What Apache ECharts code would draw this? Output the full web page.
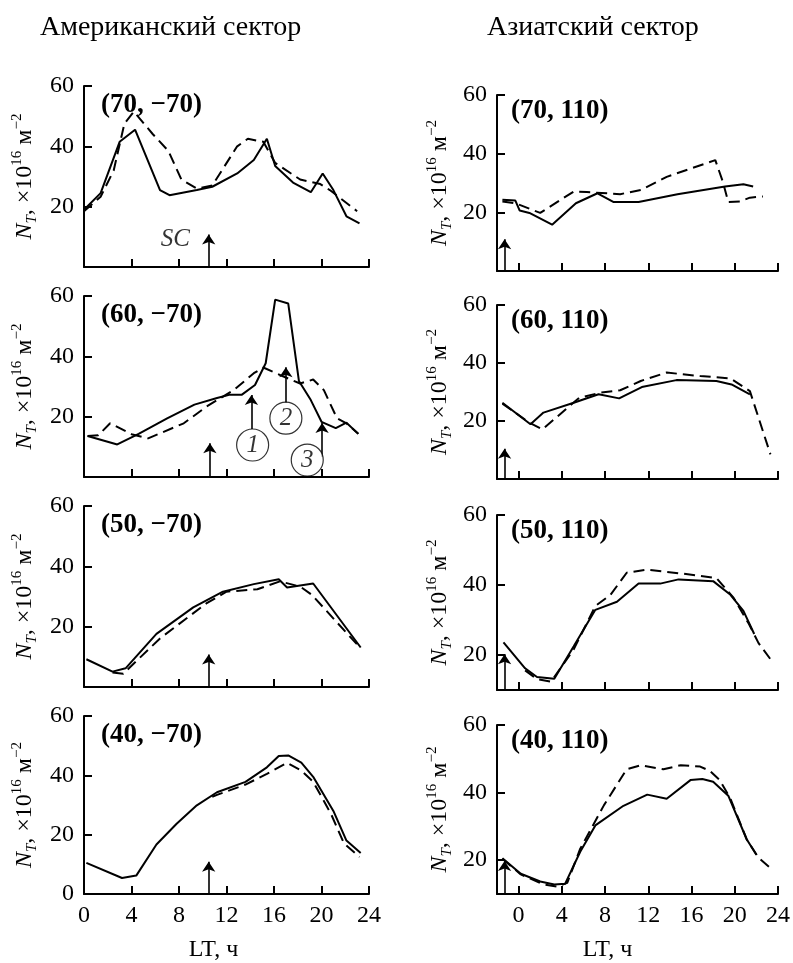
<!DOCTYPE html>
<html>
<head>
<meta charset="utf-8">
<script src="https://cdn.jsdelivr.net/npm/echarts@6/dist/echarts.min.js"></script>
<style>
  html, body { margin: 0; padding: 0; background: #fff; }
  #chart { width: 793px; height: 963px; }
</style>
</head>
<body>
<div id="chart"></div>
<script>
// ---- data: [LT (h), N_T (x10^16 m^-2)] ----
const am70Solid = [[0,19],[1.4,24.5],[3,41.5],[4.3,45.5],[6.4,25.5],[7.2,23.8],[9.5,25.5],[10.8,26.6],[12.9,31],[14.3,35.5],[15.4,42.5],[16.1,33.5],[17.6,28],[19.1,24.8],[20.1,31],[21,25.5],[22.1,16.8],[23.2,14.5]];
const am70Dashed = [[0,18.5],[1.4,23.3],[2.5,32],[3.4,47.5],[4.2,51.5],[5.8,44],[7.1,38.5],[8.2,29],[9.5,26],[10.8,27],[12.9,40],[13.8,42.5],[15.1,41.5],[16.1,34.5],[18.2,29],[19.9,27.5],[20.7,25.5],[23,18.5]];

const am60Solid = [[0.3,13.6],[2.8,10.8],[4.6,14.3],[7,19.4],[9.3,24],[11.2,26.2],[12.3,27.3],[13.3,27.3],[14.4,30.5],[15.3,37.7],[16.1,58.8],[17.2,57.5],[18.1,31.8],[19.1,25.5],[20,18.3],[21.2,16.2],[22.1,18],[23.1,14.3]];
const am60Dashed = [[0.3,13.6],[1.2,13.8],[2.2,17.8],[4,14.2],[5.4,12.8],[8.4,17.8],[10.3,23.3],[12.6,28.8],[14.3,34.4],[15.1,36.3],[16.8,33.3],[18.2,31],[19.3,32.3],[20.2,28.8],[21.3,19.5],[22.1,17.8],[23.1,14.3]];

const am50Solid = [[0.2,9.2],[2.4,5.1],[3.5,6.2],[6.1,17.6],[9.2,26.4],[11.7,31.6],[14.3,34.1],[16.4,35.7],[17.1,33],[19.3,34.3],[23.3,13.1]];
const am50Dashed = [[2.4,4.8],[3.3,4.4],[6.4,16.1],[10.3,27.7],[12,31.6],[14.6,32.4],[16.5,35],[18.2,33.3],[19.2,30.5],[23.3,12.8]];

const am40Solid = [[0.2,10.5],[3.2,5.4],[4.4,6.2],[6.1,16.7],[7.8,23.7],[9.5,29.9],[11.2,34.3],[13.6,37.8],[15.4,42.7],[16.4,46.5],[17.2,46.7],[18.3,44.3],[19.3,39.5],[21,28],[22.1,18],[23.3,13.8]];
const am40Dashed = [[10.8,32.8],[11.2,33.4],[13.6,36.9],[15.4,40.5],[17.1,44.2],[18.3,41.6],[19.3,37.8],[20.8,27],[21.9,17],[23.2,12.5]];

const as70Solid = [[-1.5,24.3],[-0.3,24],[0.1,20.6],[1,19.8],[3.1,15.8],[5.3,23.1],[7.3,26.5],[8.8,23.5],[11.1,23.5],[14.7,26.2],[19.1,28.8],[20.8,29.6],[21.7,28.8]];
const as70Dashed = [[-1.5,23.7],[-0.3,23.1],[2,19.8],[5.1,27.1],[6.3,26.9],[9.4,26.2],[11.3,27.6],[13.7,32.1],[15.9,34.9],[18.2,37.8],[18.9,30.4],[19.4,23.5],[20.5,23.7],[21.4,25],[22.6,25.4]];

const as60Solid = [[-1.5,26.3],[1.1,18.9],[2.3,22.9],[5.1,26.3],[7.4,29.2],[9.3,27.8],[11.4,31.7],[14.6,34.1],[18.3,33.8],[19.7,32.6],[21.4,29.2]];
const as60Dashed = [[-1.5,26],[1,19.4],[2.2,17.1],[5.6,28],[7.6,29.8],[9.4,30.6],[11.3,33.8],[13.7,36.7],[16.8,35.5],[19.6,34.7],[21.4,30.3],[23.3,8.5]];

const as50Solid = [[-1.4,23.6],[0.6,16.2],[1.7,13.7],[3.3,13.2],[5.1,22.5],[7.1,32.9],[9.1,35.2],[11.1,40.4],[13.1,40.4],[14.8,41.6],[18,41.1],[19.6,37.2],[20.8,32.6],[21.8,26]];
const as50Dashed = [[0.6,15.6],[1.7,13.1],[3,12.4],[5.1,21.6],[7.1,34],[8.5,37.2],[10,43.5],[11.9,44.4],[15.3,43.2],[18.3,42],[19.9,36.3],[21.3,28.9],[22.2,23.4],[23.3,18.8]];

const as40Solid = [[-1.5,20.6],[0.2,16],[2,13.7],[3.3,12.8],[4.3,13],[5.7,22.5],[7.1,30.3],[9.7,36.1],[11.9,39.4],[13.7,38.2],[15.9,43.7],[17,44],[18,43.2],[19.4,39.1],[21.1,26.2],[22,21.6]];
const as40Dashed = [[-1.5,20.4],[0.2,15.8],[2.3,12.8],[3.6,12.2],[4.5,13.3],[5.7,23.4],[7.9,36.3],[10,46.9],[11.3,48.1],[13.4,46.9],[15,48.1],[16.8,47.7],[17.7,46.4],[18.6,43.7],[19.6,38.2],[21.1,26.2],[22.2,20.7],[23.4,17.4]];

// arrows: [LT, from, to]
const arrowsAm70 = [[10.5, 0, 10.8]];
const arrowsAm60 = [[10.6, 0, 11.2], [14.1, 15.9, 27.2], [17, 24.5, 36.4], [20.05, 6.6, 17.9]];
const arrowsAm50 = [[10.5, 0, 10.8]];
const arrowsAm40 = [[10.5, 0, 10.9]];
const arrowsAs70 = [[-1.3, 0, 10.8]];
const arrowsAs60 = [[-1.3, 0, 10.4]];
const arrowsAs50 = [[-1.3, 10, 20.2]];
const arrowsAs40 = [[-1.3, 10, 19.8]];

const circleMarks = [[14.2, 10.6, '1'], [17, 19.5, '2'], [18.8, 5.6, '3']];
const scMark = [[7.7, 9]];

const panelTitles = ['(70, −70)', '(60, −70)', '(50, −70)', '(40, −70)', '(70, 110)', '(60, 110)', '(50, 110)', '(40, 110)'];
const xTicksAm = [0, 4, 8, 12, 16, 20, 24];
const xTicksAs = [0, 4, 8, 12, 16, 20, 24];

const FONT = "'Liberation Serif', 'DejaVu Serif', serif";

const panels = [
  { solid: am70Solid, dashed: am70Dashed, arrows: arrowsAm70, col: 0, top: 86, h: 181, ymin: 0 },
  { solid: am60Solid, dashed: am60Dashed, arrows: arrowsAm60, col: 0, top: 296, h: 181, ymin: 0 },
  { solid: am50Solid, dashed: am50Dashed, arrows: arrowsAm50, col: 0, top: 506, h: 181, ymin: 0 },
  { solid: am40Solid, dashed: am40Dashed, arrows: arrowsAm40, col: 0, top: 716, h: 182, ymin: 0, bottom: true },
  { solid: as70Solid, dashed: as70Dashed, arrows: arrowsAs70, col: 1, top: 95, h: 176, ymin: 0 },
  { solid: as60Solid, dashed: as60Dashed, arrows: arrowsAs60, col: 1, top: 305, h: 174, ymin: 0 },
  { solid: as50Solid, dashed: as50Dashed, arrows: arrowsAs50, col: 1, top: 515, h: 175, ymin: 10 },
  { solid: as40Solid, dashed: as40Dashed, arrows: arrowsAs40, col: 1, top: 725, h: 175, ymin: 10, bottom: true }
];

const grid = [], xAxis = [], yAxis = [], series = [], title = [];

title.push({ text: 'Американский сектор', left: 35, top: 9, textStyle: { fontFamily: FONT, fontSize: 28, fontWeight: 'normal', color: '#000' } });
title.push({ text: 'Азиатский сектор', left: 482, top: 9, textStyle: { fontFamily: FONT, fontSize: 28, fontWeight: 'normal', color: '#000' } });

const axisLineStyle = { color: '#000', width: 2 };
const yName = '{i|N}{sub|T}{n|, ×10}{sup|16}{n| м}{sup|−2}';
const yNameRich = {
  i: { fontFamily: FONT, fontSize: 24, fontStyle: 'italic', lineHeight: 30 },
  n: { fontFamily: FONT, fontSize: 24, lineHeight: 30 },
  sub: { fontFamily: FONT, fontSize: 15, fontStyle: 'italic', verticalAlign: 'bottom', lineHeight: 14 },
  sup: { fontFamily: FONT, fontSize: 15, verticalAlign: 'top', lineHeight: 12 }
};

panels.forEach((p, i) => {
  const left = p.col === 0 ? 84 : 497;
  const width = p.col === 0 ? 285 : 281;
  grid.push({ left: left, top: p.top, width: width, height: p.h });

  xAxis.push({
    type: 'value', gridIndex: i,
    min: p.col === 0 ? 0 : -2, max: 24,
    axisLine: { show: true, onZero: false, lineStyle: axisLineStyle },
    axisTick: { show: true, inside: true, length: 8, lineStyle: axisLineStyle,
      customValues: p.col === 0 ? xTicksAm.slice(1) : xTicksAs },
    axisLabel: { show: !!p.bottom, customValues: p.col === 0 ? xTicksAm : xTicksAs,
      fontFamily: FONT, fontSize: 24, color: '#000', margin: 10 },
    splitLine: { show: false },
    name: p.bottom ? 'LT, ч' : '', nameLocation: 'middle', nameGap: 44,
    nameTextStyle: { fontFamily: FONT, fontSize: 24, color: '#000',
      padding: p.col === 0 ? [0, 26, 0, 0] : [0, 60, 0, 0] }
  });

  const yLabels = p.bottom && p.col === 0 ? [0, 20, 40, 60] : [20, 40, 60];
  yAxis.push({
    type: 'value', gridIndex: i, min: p.ymin, max: 60,
    axisLine: { show: true, onZero: false, lineStyle: axisLineStyle },
    axisTick: { show: true, inside: true, length: 8, lineStyle: axisLineStyle, customValues: [20, 40, 60] },
    axisLabel: { customValues: yLabels, fontFamily: FONT, fontSize: 24, color: '#000', margin: 10 },
    splitLine: { show: false },
    name: yName, nameLocation: 'middle', nameRotate: 90,
    nameGap: p.col === 0 ? 44 : 42,
    nameTextStyle: { color: '#000', rich: yNameRich }
  });

  title.push({
    text: panelTitles[i],
    left: left + (p.col === 0 ? 12 : 9), top: p.top + (p.col === 0 ? 1 : -2),
    textStyle: { fontFamily: FONT, fontSize: 27, fontWeight: 'bold', color: '#000' }
  });

  series.push({
    type: 'line', xAxisIndex: i, yAxisIndex: i, data: p.solid,
    showSymbol: false, clip: false,
    lineStyle: { color: '#000', width: 2 },
    markLine: {
      silent: true, symbol: ['none', 'arrow'], symbolSize: 10,
      itemStyle: { color: '#000' },
      lineStyle: { color: '#000', width: 1.6, type: 'solid' },
      label: { show: false },
      data: p.arrows.map(a => [{ coord: [a[0], a[1]] }, { coord: [a[0], a[2]] }])
    }
  });
  series.push({
    type: 'line', xAxisIndex: i, yAxisIndex: i, data: p.dashed,
    showSymbol: false, clip: false,
    lineStyle: { color: '#000', width: 2, type: [11, 6] }
  });
});

// SC label and circled numbers
series.push({
  type: 'scatter', xAxisIndex: 0, yAxisIndex: 0, data: scMark,
  symbolSize: 1, itemStyle: { color: 'rgba(0,0,0,0)' },
  label: { show: true, position: 'inside', formatter: 'SC', fontFamily: FONT,
    fontSize: 25, fontStyle: 'italic', color: '#000' }
});
series.push({
  type: 'scatter', xAxisIndex: 1, yAxisIndex: 1, data: circleMarks,
  symbolSize: 32, z: 5,
  itemStyle: { color: '#fff', borderColor: '#000', borderWidth: 1.2 },
  label: { show: true, position: 'inside', formatter: p => p.value[2], fontFamily: FONT,
    fontSize: 25, fontStyle: 'italic', color: '#000' }
});

const chart = echarts.init(document.getElementById('chart'), null, { renderer: 'canvas' });
chart.setOption({
  animation: false,
  backgroundColor: '#fff',
  title: title,
  grid: grid,
  xAxis: xAxis,
  yAxis: yAxis,
  series: series
});
</script>
</body>
</html>
